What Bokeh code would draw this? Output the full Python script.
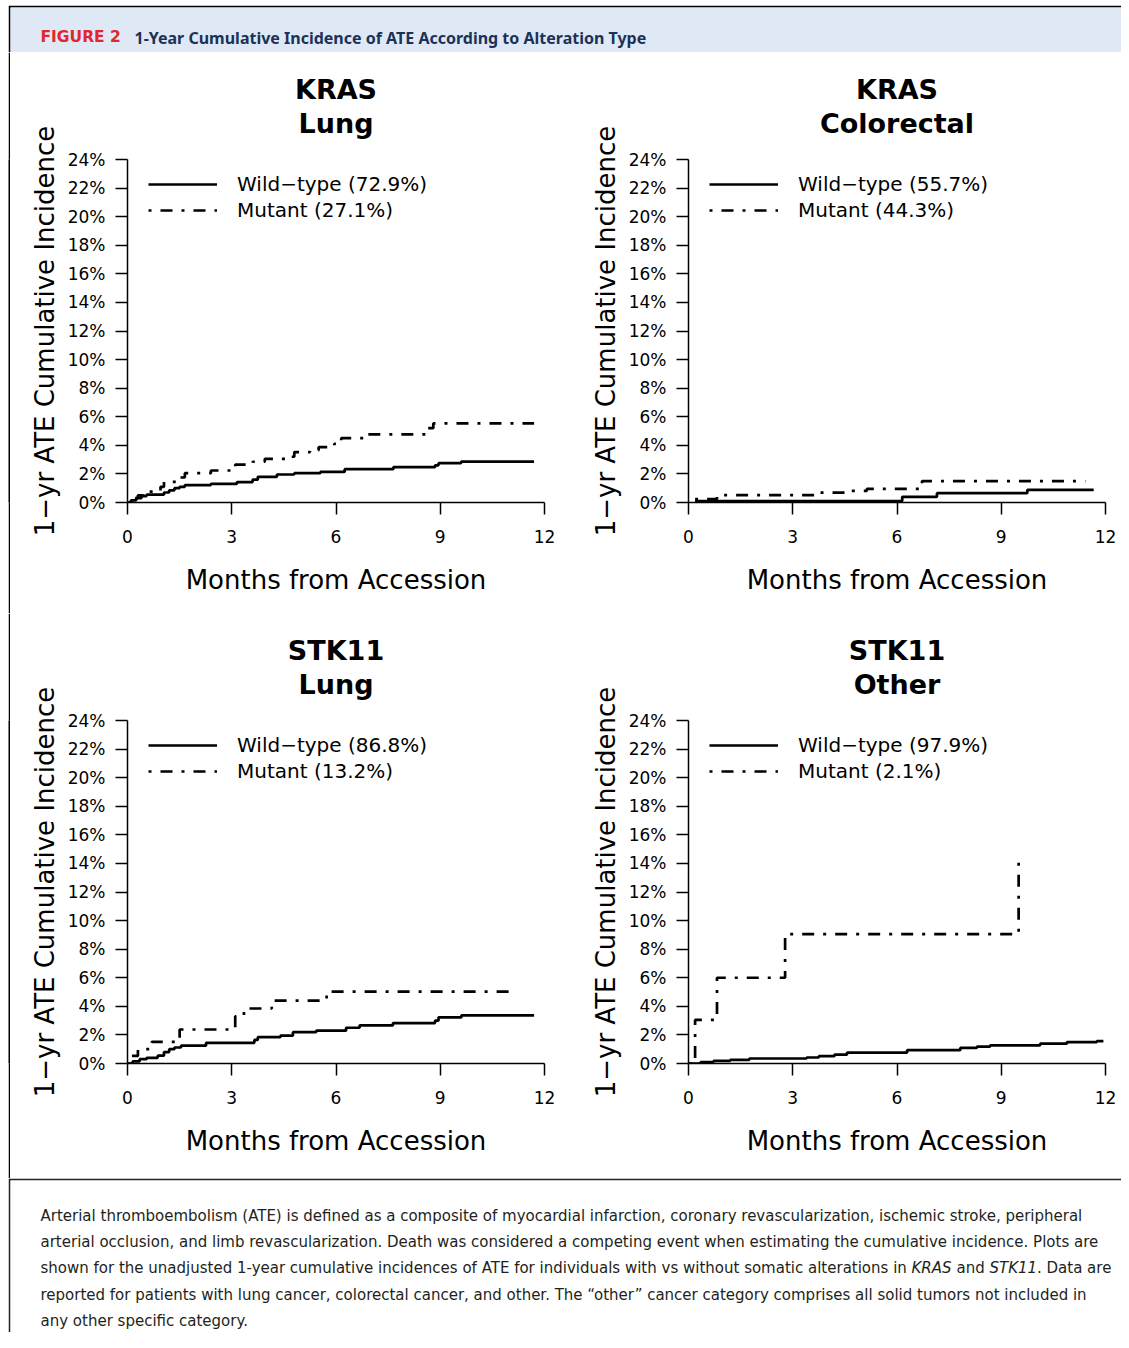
from bokeh.plotting import figure
from bokeh.models import Range1d, FixedTicker, PrintfTickFormatter, Title, Spacer
from bokeh.layouts import column, row
from bokeh.embed import file_html
from bokeh.resources import INLINE
from bokeh.core.properties import value

# ---------------- data (months, cumulative incidence %) ----------------
month_ticks = [0, 3, 6, 9, 12]
pct_ticks = [0, 2, 4, 6, 8, 10, 12, 14, 16, 18, 20, 22, 24]

kras_lung_wt_t = [0, 0.1, 0.25, 0.4, 0.55, 1.05, 1.2, 1.35, 1.5, 1.65, 2.4, 3.15, 3.6, 3.75, 4.3, 4.8, 5.55, 6.25, 7.65, 8.85, 8.95, 9.6, 11.7]
kras_lung_wt_v = [0, 0.15, 0.3, 0.45, 0.55, 0.7, 0.85, 1.0, 1.1, 1.22, 1.31, 1.43, 1.6, 1.8, 1.96, 2.05, 2.14, 2.33, 2.47, 2.6, 2.75, 2.86, 2.86]
kras_lung_mu_t = [0, 0.1, 0.3, 0.45, 0.95, 1.05, 1.5, 1.65, 2.4, 3.1, 3.6, 3.95, 4.7, 4.8, 5.25, 5.5, 5.95, 6.15, 6.9, 8.65, 8.8, 11.7]
kras_lung_mu_v = [0, 0.3, 0.5, 0.76, 1.1, 1.45, 1.75, 2.05, 2.24, 2.65, 2.85, 3.05, 3.2, 3.53, 3.65, 3.87, 4.1, 4.5, 4.77, 5.2, 5.53, 5.53]

kras_crc_wt_t = [0.19, 6.15, 7.15, 9.75, 11.66]
kras_crc_wt_v = [0.1, 0.4, 0.65, 0.88, 0.88]
kras_crc_mu_t = [0.19, 0.82, 3.7, 4.65, 5.13, 6.72, 11.42]
kras_crc_mu_v = [0.23, 0.51, 0.69, 0.81, 0.95, 1.5, 1.5]

stk_lung_wt_t = [0, 0.15, 0.35, 0.55, 0.87, 1.05, 1.2, 1.35, 1.54, 2.26, 3.65, 3.75, 4.4, 4.76, 5.43, 6.29, 6.68, 7.64, 8.85, 8.95, 9.61, 11.7]
stk_lung_wt_v = [0, 0.15, 0.3, 0.4, 0.55, 0.8, 1.0, 1.12, 1.25, 1.45, 1.65, 1.84, 1.95, 2.19, 2.3, 2.5, 2.67, 2.83, 3.0, 3.23, 3.37, 3.37]
stk_lung_mu_t = [0, 0.12, 0.3, 0.7, 1.5, 3.1, 3.35, 4.15, 5.73, 11.0]
stk_lung_mu_v = [0, 0.53, 1.0, 1.52, 2.38, 3.3, 3.85, 4.4, 5.03, 5.03]

stk_other_wt_t = [0, 0.35, 0.72, 1.2, 1.75, 3.4, 3.75, 4.2, 4.56, 6.29, 7.82, 8.3, 8.68, 10.12, 10.89, 11.75, 11.94]
stk_other_wt_v = [0, 0.1, 0.18, 0.25, 0.35, 0.42, 0.51, 0.62, 0.76, 0.93, 1.09, 1.18, 1.27, 1.39, 1.5, 1.57, 1.57]
stk_other_mu_t = [0, 0.19, 0.82, 2.78, 9.5]
stk_other_mu_v = [0, 3.05, 6.0, 9.05, 14.3]

panel_genes = ["KRAS", "KRAS", "STK11", "STK11"]
panel_sites = ["Lung", "Colorectal", "Lung", "Other"]
wt_labels = ["Wild\u2212type (72.9%)", "Wild\u2212type (55.7%)", "Wild\u2212type (86.8%)", "Wild\u2212type (97.9%)"]
mu_labels = ["Mutant (27.1%)", "Mutant (44.3%)", "Mutant (13.2%)", "Mutant (2.1%)"]

x_title = "Months from Accession"
y_title = "1\u2212yr ATE Cumulative Incidence"

header_tag = "FIGURE 2"
header_title = "1-Year Cumulative Incidence of ATE According to Alteration Type"

caption_lines = [
    "Arterial thromboembolism (ATE) is defined as a composite of myocardial infarction, coronary revascularization, ischemic stroke, peripheral",
    "arterial occlusion, and limb revascularization. Death was considered a competing event when estimating the cumulative incidence. Plots are",
    "shown for the unadjusted 1-year cumulative incidences of ATE for individuals with vs without somatic alterations in",
    "reported for patients with lung cancer, colorectal cancer, and other. The \u201cother\u201d cancer category comprises all solid tumors not included in",
    "any other specific category.",
]
caption_l3_parts = ["KRAS", "and", "STK11", ". Data are"]
caption_l3_italic = [True, False, True, False]

# ---------------- styling constants ----------------
FONT = "DejaVu Sans"
FRAME_W = 417
FRAME_H = 347
LINE_W = 2.7
DASH = "3 9 12 9"


def panel(i, width, height, left, top):
    p = figure(width=width, height=height, output_backend="svg", toolbar_location=None,
               x_range=Range1d(0, 12), y_range=Range1d(0, 24),
               min_border_left=left, min_border_top=top,
               min_border_right=width - left - FRAME_W,
               min_border_bottom=height - top - FRAME_H)
    p.grid.visible = False
    p.outline_line_color = None
    p.background_fill_color = "white"
    p.border_fill_color = "white"
    data = [
        (kras_lung_wt_t, kras_lung_wt_v, kras_lung_mu_t, kras_lung_mu_v),
        (kras_crc_wt_t, kras_crc_wt_v, kras_crc_mu_t, kras_crc_mu_v),
        (stk_lung_wt_t, stk_lung_wt_v, stk_lung_mu_t, stk_lung_mu_v),
        (stk_other_wt_t, stk_other_wt_v, stk_other_mu_t, stk_other_mu_v),
    ][i]
    p.step(x=data[0], y=data[1], mode="after", line_color="black", line_width=LINE_W,
           legend_label=wt_labels[i])
    p.step(x=data[2], y=data[3], mode="after", line_color="black", line_width=LINE_W,
           line_dash=DASH, legend_label=mu_labels[i])

    for ax in (p.xaxis, p.yaxis):
        ax.axis_line_width = 1.5
        ax.axis_line_color = "black"
        ax.major_tick_line_width = 1.5
        ax.major_tick_line_color = "black"
        ax.major_tick_out = 12
        ax.major_tick_in = 0
        ax.minor_tick_out = 0
        ax.minor_tick_in = 0
        ax.major_label_text_font = FONT
        ax.major_label_text_font_size = "17px"
        ax.major_label_text_color = "black"
        ax.axis_label_text_font = FONT
        ax.axis_label_text_font_size = "26px"
        ax.axis_label_text_font_style = "normal"
        ax.axis_label_text_color = "black"
    p.xaxis.ticker = FixedTicker(ticks=month_ticks)
    p.yaxis.ticker = FixedTicker(ticks=pct_ticks)
    p.yaxis.formatter = PrintfTickFormatter(format="%d%%")
    p.xaxis.axis_label = x_title
    p.yaxis.axis_label = y_title
    p.xaxis.major_label_standoff = 15
    p.yaxis.major_label_standoff = 10
    p.xaxis.axis_label_standoff = 19
    p.yaxis.axis_label_standoff = 5

    lg = p.legend[0]
    lg.location = (21, FRAME_H - 16 - 52)
    lg.border_line_color = None
    lg.background_fill_alpha = 0
    lg.padding = 0
    lg.margin = 0
    lg.spacing = 0
    lg.glyph_width = 69
    lg.glyph_height = 26
    lg.label_height = 26
    lg.label_standoff = 20
    lg.label_text_font = FONT
    lg.label_text_font_size = "20px"
    lg.label_text_color = "black"

    t = Title(text=panel_genes[i] + "\n" + panel_sites[i], align="center",
              vertical_align="bottom", text_font=FONT, text_font_style="bold",
              text_font_size="27px", text_color="black", text_line_height=1.11,
              standoff=40)
    try:
        t.text_align = "center"
    except Exception:
        pass
    p.title = t
    return p


def strip(h):
    s = figure(width=2, height=h, output_backend="svg", toolbar_location=None,
               x_axis_location=None, y_axis_location=None, min_border=0,
               background_fill_color="black", border_fill_color="black",
               outline_line_color=None)
    s.grid.visible = False
    return s


# ---------------- header ----------------
hdr = figure(width=1113, height=47, output_backend="svg", toolbar_location=None,
             x_axis_location=None, y_axis_location=None,
             x_range=Range1d(0, 1111), y_range=Range1d(45, 0),
             min_border_left=2, min_border_top=2, min_border_right=0, min_border_bottom=0,
             background_fill_color="#dee9f5", border_fill_color="black", outline_line_color=None)
hdr.grid.visible = False
hdr.text(x=[30], y=[29.7], text=[header_tag], text_font=value(FONT), text_font_style="bold",
         text_font_size="15.5px", text_color="#e3262e", text_baseline="alphabetic")
hdr.text(x=[124], y=[30.3], text=[header_title], text_font=value("Noto Sans"), text_font_style="bold",
         text_font_size="16px", text_color="#1c3157", text_baseline="alphabetic")

# ---------------- panels ----------------
p1 = panel(0, 559, 561, 117, 103)
p2 = panel(1, 552, 561, 119, 103)
p3 = panel(2, 559, 565, 117, 103)
p4 = panel(3, 552, 565, 119, 103)

row1 = row(strip(561), p1, p2)
row2 = row(strip(565), p3, p4)

# ---------------- caption ----------------
cap = figure(width=1113, height=154, output_backend="svg", toolbar_location=None,
             x_axis_location=None, y_axis_location=None,
             x_range=Range1d(0, 1111), y_range=Range1d(152, 0),
             min_border_left=2, min_border_top=2, min_border_right=0, min_border_bottom=0,
             background_fill_color="white", border_fill_color="#222222", outline_line_color=None)
cap.grid.visible = False
base_y = [35, 61.3, 87.6, 114, 140.3]
CAP_FONT = "DejaVu Sans"
CAP_SIZE = "15px"
cap.text(x=[30] * 5, y=base_y, text=caption_lines, text_font=value(CAP_FONT),
         text_font_size=CAP_SIZE, text_color="#231f20", text_baseline="alphabetic")
part_x = [901, 946, 979, 1026.5]
for px, txt, it in zip(part_x, caption_l3_parts, caption_l3_italic):
    cap.text(x=[px], y=[base_y[2]], text=[txt], text_font=value(CAP_FONT),
             text_font_style="italic" if it else "normal",
             text_font_size=CAP_SIZE, text_color="#231f20", text_baseline="alphabetic")

body = column(Spacer(width=1113, height=5), hdr, row1, row2, cap)
page = row(Spacer(width=8, height=1332), body)

open("out.html", "w").write(file_html(page, INLINE))
